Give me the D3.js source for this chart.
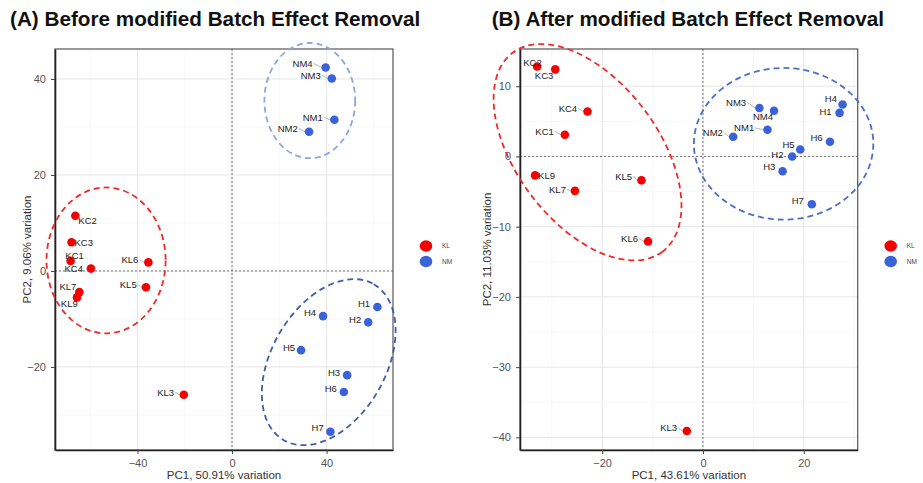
<!DOCTYPE html>
<html>
<head>
<meta charset="utf-8">
<script src="https://cdn.jsdelivr.net/npm/d3@7"></script>
<style>
  body { margin: 0; background: #fff; }
  svg { display: block; font-family: "Liberation Sans", Arial, sans-serif; }
</style>
</head>
<body>
<svg width="923" height="483"></svg>
<script>
// ---- data ----
const samplesA = ["KC2", "KC3", "KC1", "KC4", "KL6", "KL7", "KL9", "KL5", "KL3",
                  "NM4", "NM3", "NM1", "NM2", "H1", "H2", "H4", "H5", "H3", "H6", "H7"];
const groupA = ["KL", "KL", "KL", "KL", "KL", "KL", "KL", "KL", "KL",
                "NM", "NM", "NM", "NM", "NM", "NM", "NM", "NM", "NM", "NM", "NM"];
const pc1A = [-66.3, -67.9, -68.3, -59.7, -35.4, -64.6, -65.6, -36.4, -20.4,
              39.6, 42.2, 43.3, 32.6, 61.5, 57.6, 38.5, 29.2, 48.7, 47.3, 41.6];
const pc2A = [11.5, 6.0, 2.1, 0.5, 1.8, -4.4, -5.5, -3.4, -25.8,
              42.4, 40.1, 31.5, 29.0, -7.5, -10.7, -9.4, -16.5, -21.7, -25.2, -33.5];

const samplesB = ["KC2", "KC3", "KC4", "KC1", "KL9", "KL7", "KL5", "KL6", "KL3",
                  "NM3", "NM4", "NM1", "NM2", "H4", "H1", "H6", "H5", "H2", "H3", "H7"];
const groupB = ["KL", "KL", "KL", "KL", "KL", "KL", "KL", "KL", "KL",
                "NM", "NM", "NM", "NM", "NM", "NM", "NM", "NM", "NM", "NM", "NM"];
const pc1B = [-32.9, -29.3, -22.9, -27.4, -33.3, -25.4, -12.2, -10.9, -3.2,
              11.2, 14.1, 12.8, 6.0, 27.7, 27.1, 25.2, 19.3, 17.7, 15.8, 21.6];
const pc2B = [12.8, 12.4, 6.4, 3.1, -2.7, -4.9, -3.4, -12.1, -39.1,
              6.9, 6.5, 3.8, 2.8, 7.4, 6.2, 2.1, 1.0, 0.0, -2.1, -6.8];

const xTicksA = [-40, 0, 40];
const yTicksA = [-20, 0, 20, 40];
const xTicksB = [-20, 0, 20];
const yTicksB = [-40, -30, -20, -10, 0, 10];

const legendKeys = ["KL", "NM"];

// hand-drawn cluster ellipses (centre and half-axes in data units, tilt in degrees)
const ellipsesA = [
  { cx: -53.3, cy: 2.2, rx: 25.2, ry: 15.2, tilt: 0, kind: "red" },
  { cx: 32.9, cy: 35.5, rx: 19.2, ry: 12.0, tilt: 0, kind: "light" },
  { cx: 40.9, cy: -19.0, rx: 38.1, ry: 11.9, tilt: 60, kind: "dark" }
];
const ellipsesB = [
  { cx: -22.9, cy: 0.6, rx: 24.7, ry: 10.1, tilt: -53, kind: "red" },
  { cx: 16.0, cy: 1.8, rx: 17.8, ry: 10.8, tilt: 0, kind: "mid" }
];

// label nudges (ggrepel result) : [dx, dy, anchor]
const nudgeA = {
  KC2: [3, 8, "start"], KC3: [3, 3.5, "start"], KC1: [4, -2, "middle"], KC4: [-8, 3.6, "end"],
  KL6: [-10, 1, "end"], KL7: [-3, -2.3, "end"], KL9: [-7.7, 10, "middle"], KL5: [-9.3, 1, "end"],
  KL3: [-9.7, 1, "end"], NM4: [-13, -0.6, "end"], NM3: [-11, 0, "end"], NM1: [-11.6, 1, "end"],
  NM2: [-11.3, 0.3, "end"], H1: [-7.3, 0.3, "end"], H2: [-7, 1, "end"], H4: [-7, 0, "end"],
  H5: [-6, 0.7, "end"], H3: [-7, 0.7, "end"], H6: [-7, 0, "end"], H7: [-6.6, -0.4, "end"]
};
const nudgeB = {
  KC2: [-4.6, -1, "middle"], KC3: [-2, 9.7, "end"], KC4: [-10.4, 0.4, "end"], KC1: [-11, 0.3, "end"],
  KL9: [3, 4, "start"], KL7: [-9, 2, "end"], KL5: [-9.4, 0, "end"], KL6: [-10, 0.7, "end"],
  KL3: [-9.7, 0.3, "end"], NM3: [-13.3, -2, "end"], NM4: [-11, 9.6, "middle"], NM1: [-13.3, 1.7, "end"],
  NM2: [-10.3, -0.6, "end"], H4: [-5.6, -2, "end"], H1: [-8, 2, "end"], H6: [-7.4, -1, "end"],
  H5: [-5.7, -1.6, "end"], H2: [-8.7, 2, "end"], H3: [-7.3, -1, "end"], H7: [-8, -0.3, "end"]
};

const pointColor = { KL: "#f40000", NM: "#3b63d9" };
const ellipseStyle = {
  red: "#ee2a2a",
  light: "#8ea7d8",
  dark: "#3f5ea6",
  mid: "#4b6fc4"
};

const svg = d3.select("svg");

function drawPanel(o) {
  const x = d3.scaleLinear().domain(o.xDomain).range([o.left, o.right]);
  const y = d3.scaleLinear().domain(o.yDomain).range([o.bottom, o.top]);
  const g = svg.append("g");

  // minor grid: halfway between major ticks
  const xStep = o.xTicks[1] - o.xTicks[0];
  const yStep = o.yTicks[1] - o.yTicks[0];
  const xMinor = d3.range(o.xTicks[0] - xStep * 2.5, o.xDomain[1], xStep).filter(v => v > o.xDomain[0] && v < o.xDomain[1]);
  const yMinor = d3.range(o.yTicks[0] - yStep * 2.5, o.yDomain[1], yStep).filter(v => v > o.yDomain[0] && v < o.yDomain[1]);

  g.selectAll(".minx").data(xMinor).enter().append("line")
    .attr("x1", d => x(d)).attr("x2", d => x(d)).attr("y1", o.top).attr("y2", o.bottom)
    .attr("stroke", "#f3f3f3").attr("stroke-width", 0.7);
  g.selectAll(".miny").data(yMinor).enter().append("line")
    .attr("y1", d => y(d)).attr("y2", d => y(d)).attr("x1", o.left).attr("x2", o.right)
    .attr("stroke", "#f3f3f3").attr("stroke-width", 0.7);
  g.selectAll(".majx").data(o.xTicks).enter().append("line")
    .attr("x1", d => x(d)).attr("x2", d => x(d)).attr("y1", o.top).attr("y2", o.bottom)
    .attr("stroke", "#e6e6e6").attr("stroke-width", 1);
  g.selectAll(".majy").data(o.yTicks).enter().append("line")
    .attr("y1", d => y(d)).attr("y2", d => y(d)).attr("x1", o.left).attr("x2", o.right)
    .attr("stroke", "#e6e6e6").attr("stroke-width", 1);

  // zero lines
  g.append("line").attr("x1", x(0)).attr("x2", x(0)).attr("y1", o.top).attr("y2", o.bottom)
    .attr("stroke", "#777").attr("stroke-width", 1).attr("stroke-dasharray", "2,2");
  g.append("line").attr("y1", y(0)).attr("y2", y(0)).attr("x1", o.left).attr("x2", o.right)
    .attr("stroke", "#777").attr("stroke-width", 1).attr("stroke-dasharray", "2,2");

  // panel border
  g.append("rect").attr("x", o.left).attr("y", o.top)
    .attr("width", o.right - o.left).attr("height", o.bottom - o.top)
    .attr("fill", "none").attr("stroke", "#555").attr("stroke-width", 1.2);

  // axes
  const xAxis = d3.axisBottom(x).tickValues(o.xTicks).tickSize(4).tickSizeOuter(0).tickPadding(5);
  const yAxis = d3.axisLeft(y).tickValues(o.yTicks).tickSize(4).tickSizeOuter(0).tickPadding(5);
  const gx = g.append("g").attr("transform", `translate(0,${o.bottom})`).call(xAxis);
  const gy = g.append("g").attr("transform", `translate(${o.left},0)`).call(yAxis);
  [gx, gy].forEach(a => {
    a.select(".domain").attr("stroke", "#222").attr("stroke-width", 1.6);
    a.selectAll(".tick line").attr("stroke", "#444");
    a.selectAll("text").attr("fill", "#555").style("font-size", "11px")
      .style("font-family", "Liberation Sans, Arial, sans-serif");
  });

  // axis titles
  g.append("text").attr("x", (o.left + o.right) / 2).attr("y", 479)
    .attr("text-anchor", "middle").attr("fill", "#333").style("font-size", "11.5px")
    .text(o.xTitle);
  g.append("text").attr("transform", `translate(${o.yTitleX},${(o.top + o.bottom) / 2}) rotate(-90)`)
    .attr("text-anchor", "middle").attr("fill", "#333").style("font-size", "11.5px")
    .text(o.yTitle);

  // ellipses
  g.selectAll(".ell").data(o.ellipses).enter().append("ellipse")
    .attr("transform", d => `translate(${x(d.cx)},${y(d.cy)}) rotate(${-d.tilt})`)
    .attr("rx", d => Math.abs(x(d.cx + d.rx) - x(d.cx)))
    .attr("ry", d => Math.abs(y(d.cy + d.ry) - y(d.cy)))
    .attr("fill", "none").attr("stroke", d => ellipseStyle[d.kind])
    .attr("stroke-width", 1.8).attr("stroke-dasharray", "6,4");

  const pts = o.samples.map((s, i) => ({ name: s, group: o.groups[i], px: x(o.pc1[i]), py: y(o.pc2[i]) }));

  // label connectors
  pts.forEach(p => {
    const n = o.nudge[p.name];
    if (n[2] === "end" && n[0] <= -9) {
      g.append("line").attr("x1", p.px + n[0] + 1).attr("y1", p.py + n[1] - 3.5)
        .attr("x2", p.px - 4).attr("y2", p.py)
        .attr("stroke", "#999").attr("stroke-width", 0.7);
    }
  });

  g.selectAll(".pt").data(pts).enter().append("circle")
    .attr("cx", d => d.px).attr("cy", d => d.py).attr("r", 4.3)
    .attr("fill", d => pointColor[d.group]);

  g.selectAll(".lab").data(pts).enter().append("text")
    .attr("x", d => d.px + o.nudge[d.name][0])
    .attr("y", d => d.py + o.nudge[d.name][1])
    .attr("text-anchor", d => o.nudge[d.name][2])
    .attr("fill", "#222").style("font-size", "9.5px")
    .text(d => d.name);

  // legend
  const lg = g.append("g").attr("transform", `translate(${o.right + 33},246)`);
  legendKeys.forEach((k, i) => {
    lg.append("ellipse").attr("cx", 0).attr("cy", i * 15.5).attr("rx", 6.3).attr("ry", 5.7)
      .attr("fill", pointColor[k]);
    lg.append("text").attr("x", 16).attr("y", i * 15.5).attr("dy", "0.35em")
      .attr("fill", "#444").style("font-size", "6.5px").text(k);
  });

  // title
  svg.append("text").attr("x", o.titleX).attr("y", 26)
    .attr("fill", "#111").style("font-size", "20.7px").style("font-weight", "bold")
    .text(o.title);
}

drawPanel({
  title: "(A) Before modified Batch Effect Removal", titleX: 10,
  left: 55, right: 393, top: 49, bottom: 450,
  xDomain: [-74.9, 68.1], yDomain: [-37.3, 46.25],
  xTicks: xTicksA, yTicks: yTicksA,
  xTitle: "PC1, 50.91% variation", yTitle: "PC2, 9.06% variation", yTitleX: 30.5,
  samples: samplesA, groups: groupA, pc1: pc1A, pc2: pc2A,
  nudge: nudgeA, ellipses: ellipsesA
});

drawPanel({
  title: "(B) After modified Batch Effect Removal", titleX: 491.7,
  left: 520, right: 857.7, top: 49, bottom: 450,
  xDomain: [-36.3, 30.7], yDomain: [-41.8, 15.3],
  xTicks: xTicksB, yTicks: yTicksB,
  xTitle: "PC1, 43.61% variation", yTitle: "PC2, 11.03% variation", yTitleX: 491,
  samples: samplesB, groups: groupB, pc1: pc1B, pc2: pc2B,
  nudge: nudgeB, ellipses: ellipsesB
});
</script>
</body>
</html>
